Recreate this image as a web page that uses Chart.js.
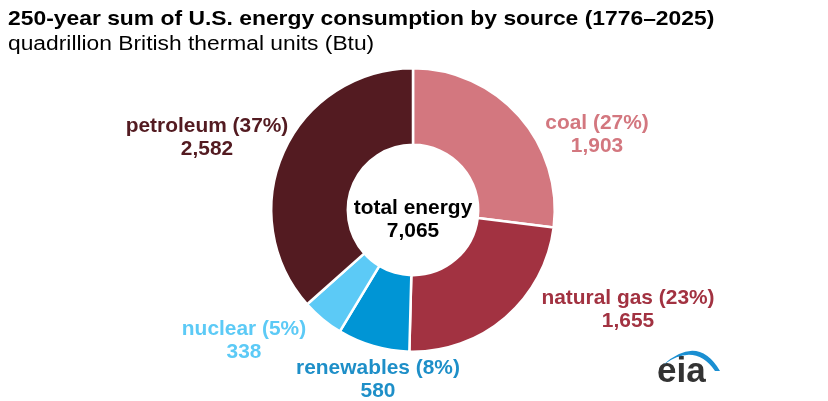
<!DOCTYPE html>
<html>
<head>
<meta charset="utf-8">
<script src="https://cdn.jsdelivr.net/npm/chart.js@4.4.1/dist/chart.umd.min.js"></script>
<style>
  html, body { margin: 0; padding: 0; background: #fff; }
  #wrap { width: 828px; height: 401px; }
</style>
</head>
<body>
<div id="wrap"><canvas id="donut" width="828" height="401"></canvas></div>
<script>
// data
const sources = ['coal', 'natural gas', 'renewables', 'nuclear', 'petroleum'];
const consumption = [1903, 1655, 580, 338, 2582];
const shares = [27, 23, 8, 5, 37];
const totalEnergy = '7,065';

const sliceColors = ['#d3777f', '#a23241', '#0095d5', '#5ccaf6', '#531b21'];
const labelColors = ['#d3777f', '#a23241', '#1e8fc8', '#5ccaf6', '#531b21'];

// where each source label sits (centre x, baseline of first line)
const labelSpots = [
  [597, 129],
  [628, 304],
  [378, 374],
  [244, 335],
  [207, 132]
];

const FONT = '"Liberation Sans", Arial, sans-serif';

// draw text stretched horizontally by sx
function wideText(ctx, str, x, y, sx, align) {
  ctx.save();
  ctx.translate(x, y);
  ctx.scale(sx, 1);
  ctx.textAlign = align || 'left';
  ctx.fillText(str, 0, 0);
  ctx.restore();
}

const textPlugin = {
  id: 'textPlugin',
  afterDraw(chart) {
    const ctx = chart.ctx;
    ctx.save();
    ctx.textBaseline = 'alphabetic';

    // title
    ctx.fillStyle = '#000';
    ctx.font = 'bold 20.5px ' + FONT;
    wideText(ctx, '250-year sum of U.S. energy consumption by source (1776\u20132025)', 8, 25, 1.115);
    ctx.font = '20px ' + FONT;
    wideText(ctx, 'quadrillion British thermal units (Btu)', 8, 50, 1.14);

    // center
    ctx.font = 'bold 20.5px ' + FONT;
    const arc = chart.getDatasetMeta(0).data[0];
    wideText(ctx, 'total energy', arc.x, arc.y + 4, 1.02, 'center');
    wideText(ctx, totalEnergy, arc.x, arc.y + 27, 1.02, 'center');

    // source labels
    sources.forEach((name, i) => {
      const [x, y] = labelSpots[i];
      ctx.fillStyle = labelColors[i];
      wideText(ctx, name + ' (' + shares[i] + '%)', x, y, 1.02, 'center');
      wideText(ctx, consumption[i].toLocaleString('en-US'), x, y + 23, 1.02, 'center');
    });

    // eia logo
    ctx.fillStyle = '#333';
    ctx.textAlign = 'left';
    ctx.font = 'bold 35px ' + FONT;
    ctx.fillText('eia', 657, 382);
    ctx.fillStyle = '#1a8fd2';
    ctx.beginPath();
    ctx.moveTo(663, 365);
    ctx.quadraticCurveTo(698, 334, 720, 371);
    ctx.lineTo(715, 371);
    ctx.quadraticCurveTo(695, 342, 663, 365);
    ctx.closePath();
    ctx.fill();

    ctx.restore();
  }
};

new Chart(document.getElementById('donut'), {
  type: 'doughnut',
  data: {
    labels: sources,
    datasets: [{
      data: consumption,
      backgroundColor: sliceColors,
      borderColor: '#fff',
      borderWidth: 2.5,
      hoverOffset: 0
    }]
  },
  options: {
    responsive: false,
    animation: false,
    cutout: '46%',
    layout: { padding: { top: 66, bottom: 47, left: 270, right: 272 } },
    plugins: {
      legend: { display: false },
      tooltip: { enabled: false }
    }
  },
  plugins: [textPlugin]
});
</script>
</body>
</html>
